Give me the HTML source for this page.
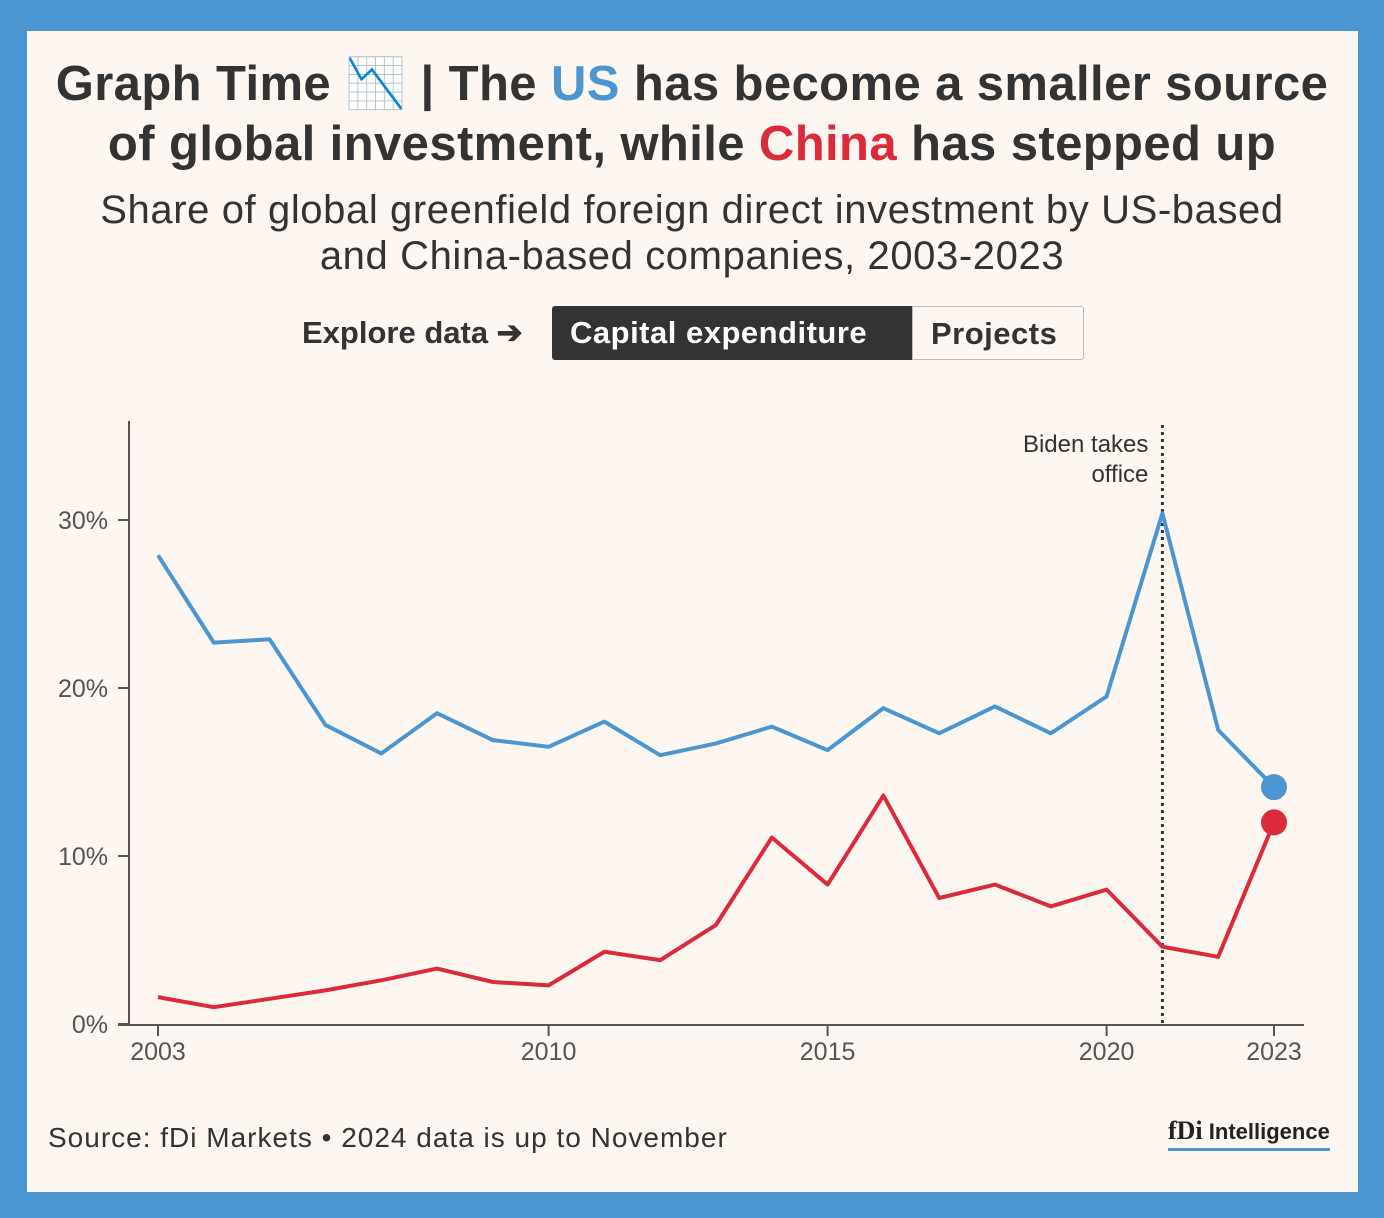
<!DOCTYPE html>
<html><head><meta charset="utf-8">
<style>
body{margin:0;width:1384px;height:1218px;background:#4b96d1;font-family:"Liberation Sans",sans-serif;overflow:hidden}
#card{position:absolute;left:27px;top:31px;width:1331px;height:1161px;background:#fdf6f1}
.t{position:absolute;left:0;width:1384px;text-align:center;color:#333}
h1{margin:0;font-size:49px;font-weight:bold;line-height:60px;letter-spacing:0.4px}
.sub{font-size:40px;line-height:46px;color:#333;letter-spacing:0.6px}
.btn{position:absolute;top:306px;height:54px;line-height:54px;font-size:31px;font-weight:bold;box-sizing:border-box;padding:0 18px;letter-spacing:0.5px}
</style></head><body>
<div id="card"></div>
<div class="t" style="top:54px"><h1>Graph Time 📉 | The <span style="color:#4b96d1">US</span> has become a smaller source<br>of global investment, while <span style="color:#db2b3b">China</span> has stepped up</h1></div>
<div class="t sub" style="top:187px">Share of global greenfield foreign direct investment by US-based<br>and China-based companies, 2003-2023</div>
<div style="position:absolute;left:302px;top:306px;line-height:54px;font-size:31px;font-weight:bold;color:#333">Explore data ➔</div>
<div class="btn" style="left:552px;width:360px;background:#333;color:#fff;border-radius:3px 0 0 3px">Capital expenditure</div>
<div class="btn" style="left:912px;width:172px;background:#fdf6f1;color:#333;border:1px solid #bbb;border-radius:0 3px 3px 0">Projects</div>
<svg id="chart" width="1384" height="1218" style="position:absolute;left:0;top:0"></svg>
<div style="position:absolute;left:48px;top:1122px;font-size:28px;letter-spacing:1px;color:#333">Source: fDi Markets • 2024 data is up to November</div>
<div style="position:absolute;left:1168px;top:1116px;font-size:22px;font-weight:bold;color:#222;border-bottom:3px solid #4b96d1;padding-bottom:2px"><span style="font-family:'Liberation Serif',serif;font-size:26px">fDi</span> Intelligence</div>
<script>
const years=[2003,2004,2005,2006,2007,2008,2009,2010,2011,2012,2013,2014,2015,2016,2017,2018,2019,2020,2021,2022,2023];
const usValues=[27.9,22.7,22.9,17.8,16.1,18.5,16.9,16.5,18.0,16.0,16.7,17.7,16.3,18.8,17.3,18.9,17.3,19.5,30.4,17.5,14.1];
const chinaValues=[1.6,1.0,1.5,2.0,2.6,3.3,2.5,2.3,4.3,3.8,5.9,11.1,8.3,13.6,7.5,8.3,7.0,8.0,4.6,4.0,12.0];
const yTicks=[0,10,20,30];
const xTicks=[2003,2010,2015,2020,2023];
const x=v=>158+(v-2003)*55.8;
const y=v=>1024-v*16.8;
const svg=document.getElementById('chart');
const NS='http://www.w3.org/2000/svg';
function mk(tag,attrs){const e=document.createElementNS(NS,tag);for(const k in attrs)e.setAttribute(k,attrs[k]);svg.appendChild(e);return e;}
let e=mk('line',{x1:129,y1:421,x2:129,y2:1025,stroke:'#555','stroke-width':2});


e=mk('line',{x1:118,y1:1025,x2:1304,y2:1025,stroke:'#555','stroke-width':2});


yTicks.forEach(t=>{
 let tk=mk('line',{x1:118,y1:y(t),x2:129,y2:y(t),stroke:'#555','stroke-width':2});
 
 
 let l=mk('text',{x:108,y:y(t)+9,'text-anchor':'end','font-size':25,fill:'#555','font-family':'Liberation Sans, sans-serif'});
 l.textContent=t+'%';
 
 
});
xTicks.forEach(t=>{
 let tk=mk('line',{x1:x(t),y1:1025,x2:x(t),y2:1036,stroke:'#555','stroke-width':2});
 
 
 let l=mk('text',{x:x(t),y:1060,'text-anchor':'middle','font-size':25,fill:'#555','font-family':'Liberation Sans, sans-serif'});
 l.textContent=t;
 
 
});
e=mk('line',{x1:x(2021),y1:425,x2:x(2021),y2:1025,stroke:'#333','stroke-width':3,'stroke-dasharray':'3,4'});


['Biden takes','office'].forEach((s,i)=>{
 let l=mk('text',{x:x(2021)-14,y:452+i*30,'text-anchor':'end','font-size':24,fill:'#333','font-family':'Liberation Sans, sans-serif'});
 l.textContent=s;
 
 
});
function series(vals,color,name){
 let p=mk('polyline',{points:vals.map((v,i)=>x(years[i])+','+y(v)).join(' '),fill:'none',stroke:color,'stroke-width':4,'stroke-linejoin':'round'});
 
 
 let n=vals.length-1;
 let c=mk('circle',{cx:x(years[n]),cy:y(vals[n]),r:13,fill:color});
 
 
}
series(usValues,'#4b96d1','us');
series(chinaValues,'#db2b3b','china');
</script>
</body></html>
